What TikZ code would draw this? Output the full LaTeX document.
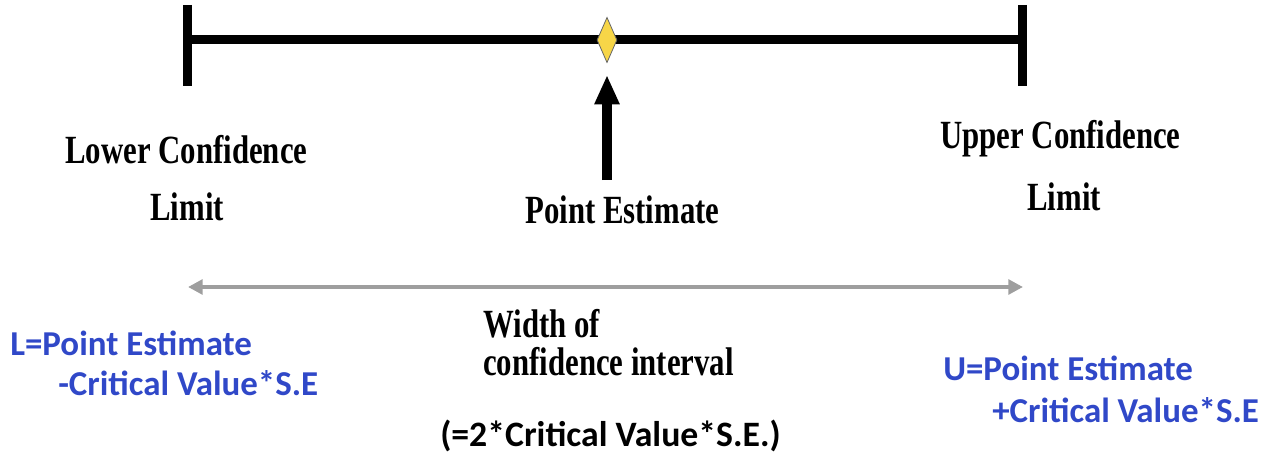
\documentclass[tikz,border=0pt]{standalone}
\usepackage{fontspec}
\setmainfont{Liberation Serif}
\newfontfamily\calfont{Carlito}
\usetikzlibrary{arrows.meta,shapes.geometric}
\definecolor{blu}{RGB}{48,72,200}
\definecolor{ylw}{RGB}{247,214,72}
\definecolor{gry}{RGB}{158,158,158}
\newcommand\cnd[1]{\scalebox{0.77}[1]{#1}}
\tikzset{
  sertext/.style={font=\fontsize{30}{27}\selectfont\bfseries, inner sep=0pt, anchor=base west},
  blutext/.style={font=\calfont\fontsize{26.2}{32}\selectfont\bfseries, text=blu, inner sep=0pt, anchor=base west},
  blktext/.style={font=\calfont\fontsize{26.8}{32}\selectfont\bfseries, text=black, inner sep=0pt, anchor=base west},
  tick/.style={line width=6.75pt},
  mainline/.style={line width=6.75pt},
}
\begin{document}
\begin{tikzpicture}[x=0.75pt,y=-0.75pt]
\useasboundingbox (0,0) rectangle (1268,453);
% ticks and main line
\coordinate (lt) at (187,5);
\coordinate (lb) at (187,86);
\coordinate (rt) at (1022,5);
\coordinate (rb) at (1022,86);
\coordinate (lm) at (187,40);
\coordinate (rm) at (1022,40);
\draw[tick] (lt) -- (lb);
\draw[tick] (rt) -- (rb);
\draw[mainline] (lm) -- (rm);
% diamond
\node[diamond, draw=black!60, line width=0.6pt, fill=ylw, inner sep=0pt, minimum width=15pt, minimum height=34pt, shape aspect=0.45] (pe) at (607,40) {};
% point arrow
\coordinate (abot) at (607,180);
\coordinate (atip) at (607,75);
\draw[line width=7.5pt, -{Triangle[width=17.5pt,length=22pt]}] (abot) -- (atip);
% width arrow
\coordinate (wl) at (188,287);
\coordinate (wr) at (1023,287);
\draw[gry, line width=3pt, {Triangle[width=11pt,length=11pt]}-{Triangle[width=11pt,length=11pt]}] (wl) -- (wr);
% serif labels
\node[sertext] (lcl1) at (65,163) {\cnd{Lower Confidence}};
\node[sertext] (lcl2) at (150,220) {\cnd{Limit}};
\node[sertext] (ucl1) at (940,148) {\cnd{Upper Confidence}};
\node[sertext] (ucl2) at (1027,210) {\cnd{Limit}};
\node[sertext] (pel) at (525,223) {\cnd{Point Estimate}};
\node[sertext] (w1) at (483,337) {\cnd{\begin{tabular}[t]{@{}l@{}}Width of\\confidence interval\end{tabular}}};
% sans labels
\node[blutext] (l1) at (10,355) {L=Point Estimate};
\node[blutext] (l2) at (58,395) {-Critical Value*S.E};
\node[blutext] (u1) at (943,380) {U=Point Estimate};
\node[blutext] (u2) at (992,422) {+Critical Value*S.E};
\node[blktext] (w3) at (440,446) {(=2*Critical Value*S.E.)};
\end{tikzpicture}
\end{document}
